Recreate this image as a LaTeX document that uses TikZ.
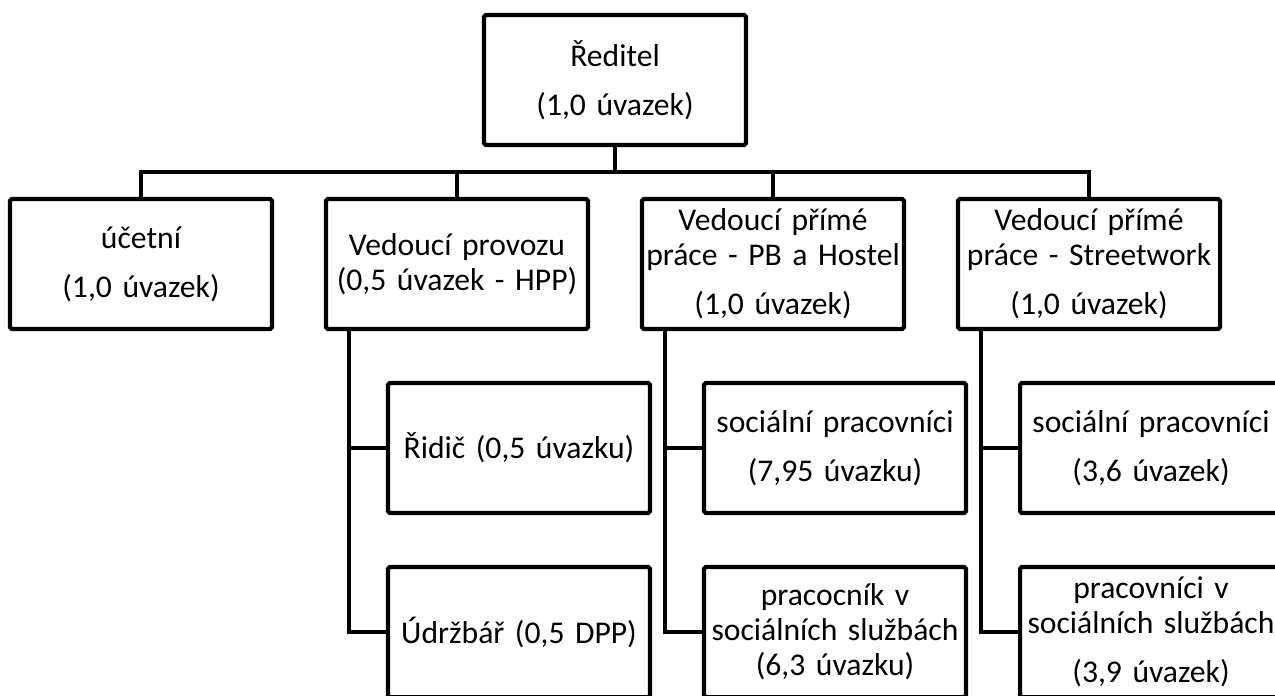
\documentclass[tikz,border=0pt]{standalone}
\usepackage{fontspec}
\setmainfont{Carlito}
\usetikzlibrary{positioning, calc}

\begin{document}
\begin{tikzpicture}[node distance=1.08cm,
    unit/.style={draw, line width=2.3pt, rounded corners=1pt, text width=5.2cm, inner xsep=0.02cm,
      outer sep=0pt, minimum height=2.6cm, align=center, font=\fontsize{18}{20}\selectfont},
    link/.style={line width=2.3pt}]
  \useasboundingbox (0,0) rectangle (25.5,-13.9);

  % top and first level
  \node[unit] (reditel) at (12.3,-1.6) {Ředitel\\[8pt](1,0 úvazek)};
  \node[unit] (ucetni) at (2.82,-5.28) {účetní\\[8pt](1,0 úvazek)};
  \node[unit, right=of ucetni] (provoz) {Vedoucí provozu\\(0,5 úvazek - HPP)};
  \node[unit, right=of provoz] (primaPB) {Vedoucí přímé\\práce - PB a Hostel\\[8pt](1,0 úvazek)};
  \node[unit, right=of primaPB] (primaSW) {Vedoucí přímé\\práce - Streetwork\\[8pt](1,0 úvazek)};

  % second level
  \node[unit, below right=1.08cm and 1.24cm of provoz.south west] (ridic) {Řidič (0,5 úvazku)};
  \node[unit, below=of ridic] (udrzbar) {Údržbář (0,5 DPP)};
  \node[unit, below right=1.08cm and 1.24cm of primaPB.south west] (socPB) {sociální pracovníci\\[8pt](7,95 úvazku)};
  \node[unit, below=of socPB] (pssPB) {pracocník v\\sociálních službách\\(6,3 úvazku)};
  \node[unit, below right=1.08cm and 1.24cm of primaSW.south west] (socSW) {sociální pracovníci\\[8pt](3,6 úvazek)};
  \node[unit, below=of socSW] (pssSW) {pracovníci v\\sociálních službách\\[8pt](3,9 úvazek)};

  % connectors
  \coordinate[below=0.54cm of reditel] (bus);
  \draw[link] (reditel) -- (bus);
  \foreach \n in {ucetni, provoz, primaPB, primaSW}
    \draw[link] (bus) -| (\n.north);
  \foreach \p/\a/\b in {provoz/ridic/udrzbar, primaPB/socPB/pssPB, primaSW/socSW/pssSW} {
    \draw[link] ([xshift=0.46cm]\p.south west) |- (\a.west);
    \draw[link] ([xshift=0.46cm]\p.south west) |- (\b.west);
  }
\end{tikzpicture}
\end{document}
